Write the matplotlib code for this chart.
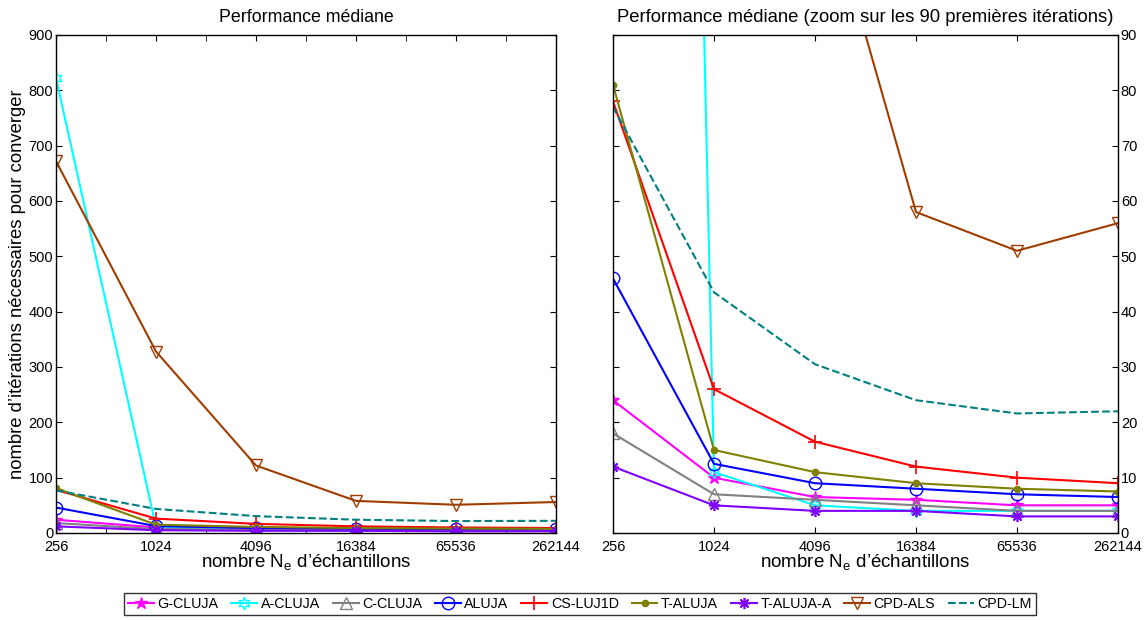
import numpy as np
import matplotlib
matplotlib.use("Agg")
import matplotlib.pyplot as plt

plt.rcParams['font.family'] = ['Liberation Sans', 'DejaVu Sans']
plt.rcParams['mathtext.fontset'] = 'custom'
plt.rcParams['mathtext.rm'] = 'Liberation Sans'

# nombre d'échantillons
Ne = [256, 1024, 4096, 16384, 65536, 262144]
xticklabels = ['256', '1024', '4096', '16384', '65536', '262144']

# médianes du nombre d'itérations
g_cluja = [24, 10, 6.5, 6, 5, 5]
a_cluja = [822, 11, 5, 4, 4, 4]
c_cluja = [18, 7, 6, 5, 4, 4]
aluja = [46, 12.5, 9, 8, 7, 6.5]
cs_luj1d = [78, 26, 16.5, 12, 10, 9]
t_aluja = [81, 15, 11, 9, 8, 7.5]
t_aluja_a = [12, 5, 4, 4, 3, 3]
cpd_als = [672, 328, 122, 58, 51, 56]
cpd_lm = [77, 43.5, 30.5, 24, 21.6, 22]

series = [
    ('G-CLUJA', g_cluja, dict(color='#FF00FF', marker='*', ms=9)),
    ('A-CLUJA', a_cluja, dict(color='#00FFFF', marker=(6, 1, 0), ms=9, mfc='none')),
    ('C-CLUJA', c_cluja, dict(color='#808080', marker='^', ms=9, mfc='none')),
    ('ALUJA', aluja, dict(color='#0000FF', marker='o', ms=9, mfc='none')),
    ('CS-LUJ1D', cs_luj1d, dict(color='#FF0000', marker='+', ms=10, mew=1.2)),
    ('T-ALUJA', t_aluja, dict(color='#808000', marker='.', ms=9)),
    ('T-ALUJA-A', t_aluja_a, dict(color='#8000FF', marker=(8, 2, 0), ms=8, mew=1.2)),
    ('CPD-ALS', cpd_als, dict(color='#A03C00', marker='v', ms=9, mfc='none')),
    ('CPD-LM', cpd_lm, dict(color='#008080', ls='--')),
]

fig = plt.figure(figsize=(11.48, 6.2), dpi=100)
ax1 = fig.add_axes([56/1148, 1-533/620, 500/1148, 498/620])
ax2 = fig.add_axes([613/1148, 1-533/620, 505/1148, 498/620])

lx = np.log2(Ne)
for ax in (ax1, ax2):
    for name, y, st in series:
        ax.plot(lx, y, lw=1.5, label=name, **st)
    ax.set_xlim(lx[0], lx[-1])
    ax.set_xticks(lx)
    ax.set_xticklabels(xticklabels)
    ax.tick_params(direction='in', top=True, right=True, labelsize=10.5, length=4)
    ax.tick_params(axis='x', pad=5)
    ax.tick_params(axis='y', pad=2)
    ax.set_xlabel('nombre N$_\\mathrm{e}$ d’échantillons', fontsize=13.5, labelpad=-1)
    for s in ax.spines.values():
        s.set_linewidth(1.0)

ax1.set_xticks(np.arange(8, 19), minor=True)
ax1.tick_params(which='minor', direction='in', top=True, length=4)
ax1.set_ylim(0, 900)
ax1.set_yticks(np.arange(0, 901, 100))
ax1.set_ylabel('nombre d’itérations nécessaires pour converger', fontsize=13.3, labelpad=2)
ax1.set_title('Performance médiane', fontsize=12.8, pad=9)

ax2.set_ylim(0, 90)
ax2.set_yticks(np.arange(0, 91, 10))
ax2.yaxis.tick_right()
ax2.tick_params(left=True, right=True, direction='in')
ax2.set_title('Performance médiane (zoom sur les 90 premières itérations)', fontsize=13.3, pad=9)

handles, labels = ax1.get_legend_handles_labels()
fig.legend(handles, labels, loc='center', bbox_to_anchor=(580/1148, 1-604/620),
           ncol=9, frameon=True, fancybox=False, edgecolor='black',
           handlelength=1.8, handletextpad=0.25, columnspacing=0.9, borderpad=0.3,
           prop={'size': 10.3})

fig.savefig('out.png', dpi=100)
